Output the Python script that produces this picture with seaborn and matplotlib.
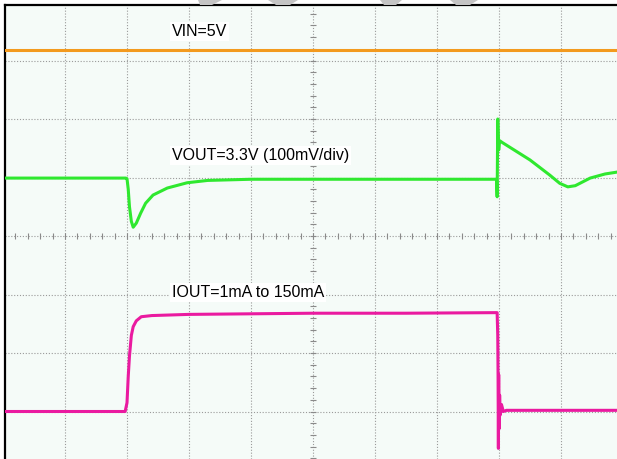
import numpy as np
import pandas as pd
import matplotlib
matplotlib.use("Agg")
import matplotlib.pyplot as plt
import seaborn as sns
from matplotlib.patches import Polygon

# scope screen in divisions (x: time div, y: vertical div, 0 = centre)
# VIN trace (orange)
vin_t = [-5.0, -2.0, 0.0, 2.0, 5.0]
vin_y = [3.18, 3.18, 3.18, 3.18, 3.18]

# VOUT trace (green), 100mV/div
vout_t = [-5.0, -3.02, -3.0, -2.98, -2.96, -2.93, -2.90, -2.85, -2.78, -2.70,
          -2.58, -2.35, -2.03, -1.70, -1.0, 0.0, 1.5, 2.96, 2.97, 2.98,
          2.995, 3.01, 3.05, 3.50, 3.82, 3.98, 4.11, 4.23, 4.47, 4.71, 4.95]
vout_y = [0.99, 0.99, 0.98, 0.80, 0.50, 0.25, 0.15, 0.22, 0.39, 0.56,
          0.70, 0.82, 0.91, 0.95, 0.97, 0.97, 0.97, 0.97, 0.67, 2.00,
          1.47, 1.63, 1.60, 1.30, 1.04, 0.90, 0.84, 0.86, 0.99, 1.06, 1.10]

# IOUT trace (magenta), 1mA -> 150mA -> 1mA
iout_t = [-5.0, -3.03, -3.0, -2.98, -2.96, -2.93, -2.90, -2.85, -2.77, -2.60,
          -2.0, -1.0, 0.0, 1.5, 2.97, 2.98, 2.985, 2.99, 2.995, 3.0,
          3.01, 3.02, 3.04, 3.07, 3.12, 3.30, 5.0]
iout_y = [-3.0, -3.0, -2.85, -2.40, -2.05, -1.70, -1.55, -1.45, -1.38, -1.36,
          -1.34, -1.33, -1.32, -1.32, -1.31, -1.70, -2.40, -3.63, -2.37, -3.30,
          -2.72, -3.06, -2.88, -3.00, -2.98, -2.98, -2.98]

labels = ["VIN=5V", "VOUT=3.3V (100mV/div)", "IOUT=1mA to 150mA"]
label_y = [3.49, 1.37, -0.97]
colors = ["#f39a1e", "#2fe82f", "#ea1aa0"]

sns.set_style("white")
plt.rcParams['font.family'] = ['Liberation Sans', 'DejaVu Sans']

W, H = 617, 459
fig = plt.figure(figsize=(W / 100, H / 100), dpi=100)
fig.patch.set_facecolor("white")
ax = fig.add_axes([5 / W, 0, 612 / W, 454 / H])
ax.set_facecolor("#f5fbf8")

px_x, px_y = 62.0, 58.5
ax.set_xlim((5 - 313) / px_x, (617 - 313) / px_x)
ax.set_ylim((236 - 459) / px_y, (236 - 5) / px_y)

# dotted graticule
for gx in range(-4, 5):
    ax.axvline(gx, color="#9a9a9a", lw=0.8, ls=(0, (1, 1.6)), zorder=1)
for gy in range(-3, 4):
    ax.axhline(gy, color="#9a9a9a", lw=0.8, ls=(0, (1, 1.6)), zorder=1)

# centre cross minor ticks
mt = np.arange(-25, 26) * 0.2
ax.plot(mt, np.zeros_like(mt), ls="none", marker="|", ms=4, mew=0.8, color="#8a8a8a", zorder=1)
mty = np.arange(-20, 21) * 0.2
ax.plot(np.zeros_like(mty), mty, ls="none", marker="_", ms=4, mew=0.8, color="#8a8a8a", zorder=1)

df = pd.concat([
    pd.DataFrame({"t": vin_t, "y": vin_y, "ch": "VIN"}),
    pd.DataFrame({"t": vout_t, "y": vout_y, "ch": "VOUT"}),
    pd.DataFrame({"t": iout_t, "y": iout_y, "ch": "IOUT"}),
])
sns.lineplot(data=df, x="t", y="y", hue="ch", palette=dict(zip(["VIN", "VOUT", "IOUT"], colors)),
             sort=False, estimator=None, lw=2.2, legend=False, ax=ax, zorder=3)

for txt, ty in zip(labels, label_y):
    ax.text((172 - 313) / px_x, ty, txt, fontsize=11.5, va="center", ha="left", color="black",
            bbox=dict(facecolor="white", edgecolor="none", pad=1.5), zorder=4)

ax.set_xticks([])
ax.set_yticks([])
ax.set_xlabel("")
ax.set_ylabel("")
for s in ["right", "bottom"]:
    ax.spines[s].set_visible(False)
for s in ["top", "left"]:
    ax.spines[s].set_color("black")
    ax.spines[s].set_linewidth(1.6)

# faint watermark slivers at the top edge
for xs in [(198, 222, 212, 200), (268, 298, 290, 276), (380, 402, 396, 384), (450, 478, 470, 456)]:
    poly = Polygon([(xs[0] / W, 1.0), (xs[1] / W, 1.0), (xs[2] / W, 1 - 5 / H), (xs[3] / W, 1 - 5 / H)],
                   closed=True, transform=fig.transFigure, facecolor="#c4c4c4", edgecolor="none")
    fig.add_artist(poly)

fig.savefig("out.png", dpi=100)
